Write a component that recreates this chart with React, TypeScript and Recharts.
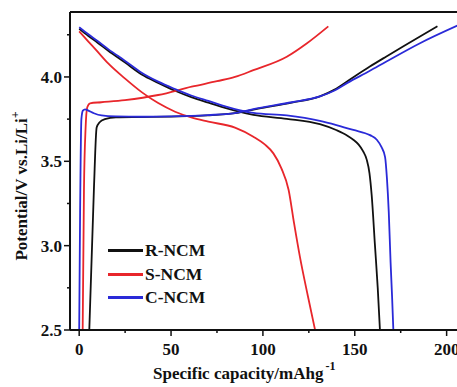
import { LineChart, Line, XAxis, YAxis } from "recharts";

type Pt = { x: number; v: number };
const pts = (arr: number[][]): Pt[] => arr.map(([x, v]) => ({ x, v }));

// specific capacity (mAh/g) vs potential (V)
const rCharge = pts([
  [5.5, 2.5], [8, 3.33], [9.5, 3.7], [11, 3.73], [14, 3.75], [20, 3.76],
  [34, 3.762], [50, 3.765], [70, 3.772], [84.8, 3.785], [97.5, 3.812],
  [115.7, 3.848], [131, 3.885], [139, 3.925], [146, 3.975], [158, 4.06],
  [167, 4.12], [185.5, 4.24], [195, 4.3],
]);
const rDischarge = pts([
  [0, 4.285], [5, 4.243], [10, 4.203], [15.8, 4.155], [25, 4.085], [34, 4.015],
  [43, 3.965], [52.2, 3.918], [61, 3.88], [70.3, 3.848], [84.8, 3.8],
  [94.8, 3.775], [113, 3.752], [131, 3.72], [140.2, 3.684], [146, 3.652],
  [149.2, 3.628], [152, 3.6], [154.5, 3.56], [156.5, 3.51], [158, 3.43],
  [159.2, 3.3], [161, 3.0], [162.5, 2.75], [163.7, 2.5],
]);
const sCharge = pts([
  [1.9, 2.5], [2.6, 3.33], [3.5, 3.7], [4.4, 3.82], [5.9, 3.844], [12, 3.85],
  [24.9, 3.863], [43, 3.893], [61.2, 3.942], [75, 3.975], [84.8, 4.0],
  [94.8, 4.04], [113, 4.12], [124, 4.2], [135.6, 4.3],
]);
const sDischarge = pts([
  [0, 4.27], [5, 4.21], [10, 4.15], [15.8, 4.08], [25, 3.99], [34, 3.91],
  [43, 3.845], [52.2, 3.794], [61, 3.76], [70.3, 3.735], [84.8, 3.7],
  [94.8, 3.646], [101, 3.6], [105.7, 3.547], [110, 3.46], [114, 3.33],
  [117, 3.13], [120.2, 2.93], [124.5, 2.7], [128.4, 2.5],
]);
const cCharge = pts([
  [0, 2.5], [0.5, 3.2], [1.2, 3.75], [2, 3.8], [3.2, 3.808], [5, 3.8],
  [8, 3.785], [12.2, 3.772], [20, 3.766], [34, 3.764], [50, 3.766],
  [70, 3.774], [84.8, 3.786], [97.5, 3.815], [115.7, 3.85], [131, 3.885],
  [139, 3.92], [146, 3.965], [158, 4.035], [167, 4.09], [185.5, 4.2], [206, 4.305],
]);
const cDischarge = pts([
  [0, 4.295], [5, 4.253], [10, 4.213], [15.8, 4.165], [25, 4.095], [34, 4.025],
  [43, 3.972], [52.2, 3.928], [61, 3.89], [70.3, 3.858], [84.8, 3.81],
  [94.8, 3.787], [113, 3.772], [131, 3.74], [140, 3.715], [149.2, 3.686],
  [158.3, 3.655], [162, 3.628], [164.5, 3.585], [166.5, 3.525], [167.5, 3.4],
  [168.5, 3.2], [169.5, 2.9], [170.3, 2.7], [171, 2.5],
]);

const xTicks = [0, 50, 100, 150, 200];
const xMinorTicks = [25, 75, 125, 175];
const yTicks = [2.5, 3.0, 3.5, 4.0];
const yMinorTicks = [2.75, 3.25, 3.75, 4.25];

const series = [
  { name: "R-NCM", color: "#111111", charge: rCharge, discharge: rDischarge },
  { name: "S-NCM", color: "#e8262b", charge: sCharge, discharge: sDischarge },
  { name: "C-NCM", color: "#2a2ad8", charge: cCharge, discharge: cDischarge },
];

const font = '"Liberation Serif", "Times New Roman", serif';
const ink = "#111";
const axisStyle = { stroke: ink, strokeWidth: 2 };

// ticks are drawn by hand so majors and minors get different lengths
function XTick(props: any) {
  const { x, y, payload } = props;
  const major = xTicks.includes(payload.value);
  return (
    <g>
      <line x1={x} y1={y} x2={x} y2={y + (major ? 6 : 3)} stroke={ink} strokeWidth={1.5} />
      {major && (
        <text
          x={x}
          y={y + 13}
          dy="0.71em"
          textAnchor="middle"
          fill={ink}
          fontSize={17}
          fontWeight="bold"
          fontFamily={font}
        >
          {payload.value}
        </text>
      )}
    </g>
  );
}

function YTick(props: any) {
  const { x, y, payload } = props;
  const major = yTicks.includes(payload.value);
  return (
    <g>
      <line x1={x - (major ? 6 : 3)} y1={y} x2={x} y2={y} stroke={ink} strokeWidth={1.5} />
      {major && (
        <text
          x={x - 8}
          y={y}
          dy="0.355em"
          textAnchor="end"
          fill={ink}
          fontSize={17}
          fontWeight="bold"
          fontFamily={font}
        >
          {payload.value.toFixed(1)}
        </text>
      )}
    </g>
  );
}

export default function App() {
  return (
    <div
      style={{
        position: "fixed",
        left: 0,
        top: 0,
        width: 457,
        height: 387,
        overflow: "hidden",
        background: "#fff",
        fontFamily: font,
        color: ink,
      }}
    >
      <LineChart width={500} height={387} margin={{ top: 0, right: 35, bottom: 0, left: 0 }}>
        <XAxis
          dataKey="x"
          type="number"
          domain={[-5, 210]}
          allowDataOverflow
          ticks={[...xTicks, ...xMinorTicks]}
          interval={0}
          height={57}
          tickSize={0}
          tickMargin={0}
          tick={XTick}
          tickLine={false}
          axisLine={axisStyle}
        />
        <XAxis
          xAxisId="top"
          orientation="top"
          type="number"
          domain={[-5, 210]}
          allowDataOverflow
          height={12}
          tick={false}
          tickLine={false}
          axisLine={axisStyle}
        />
        <YAxis
          type="number"
          domain={[2.5, 4.385]}
          allowDataOverflow
          ticks={[...yTicks, ...yMinorTicks]}
          interval={0}
          width={70}
          tickSize={0}
          tickMargin={0}
          tick={YTick}
          tickLine={false}
          axisLine={axisStyle}
        />
        {series.flatMap((s) => [
          <Line
            key={s.name + "-c"}
            data={s.charge}
            dataKey="v"
            type="monotone"
            stroke={s.color}
            strokeWidth={1.8}
            dot={false}
            isAnimationActive={false}
          />,
          <Line
            key={s.name + "-d"}
            data={s.discharge}
            dataKey="v"
            type="monotone"
            stroke={s.color}
            strokeWidth={1.8}
            dot={false}
            isAnimationActive={false}
          />,
        ])}
      </LineChart>

      {/* legend */}
      <div style={{ position: "absolute", left: 108, top: 239 }}>
        {series.map((s) => (
          <div
            key={s.name}
            style={{ display: "flex", alignItems: "center", height: 23.5, fontSize: 17.5, fontWeight: "bold" }}
          >
            <span style={{ display: "inline-block", width: 35, height: 2.7, background: s.color, marginRight: 2 }} />
            <span>{s.name}</span>
          </div>
        ))}
      </div>

      {/* axis titles */}
      <div
        style={{
          position: "absolute",
          left: 22,
          top: 186,
          transform: "translate(-50%, -50%) rotate(-90deg)",
          whiteSpace: "nowrap",
          fontSize: 17,
          fontWeight: "bold",
          lineHeight: "17px",
        }}
      >
        Potential/V vs.Li/Li
        <span style={{ fontSize: 12, position: "relative", top: -8 }}>+</span>
      </div>
      <div
        style={{
          position: "absolute",
          left: 153,
          top: 365,
          whiteSpace: "nowrap",
          fontSize: 17,
          fontWeight: "bold",
          lineHeight: "17px",
        }}
      >
        Specific capacity/mAhg
        <span style={{ fontSize: 12, position: "relative", top: -9, marginLeft: 2 }}>-1</span>
      </div>
    </div>
  );
}
